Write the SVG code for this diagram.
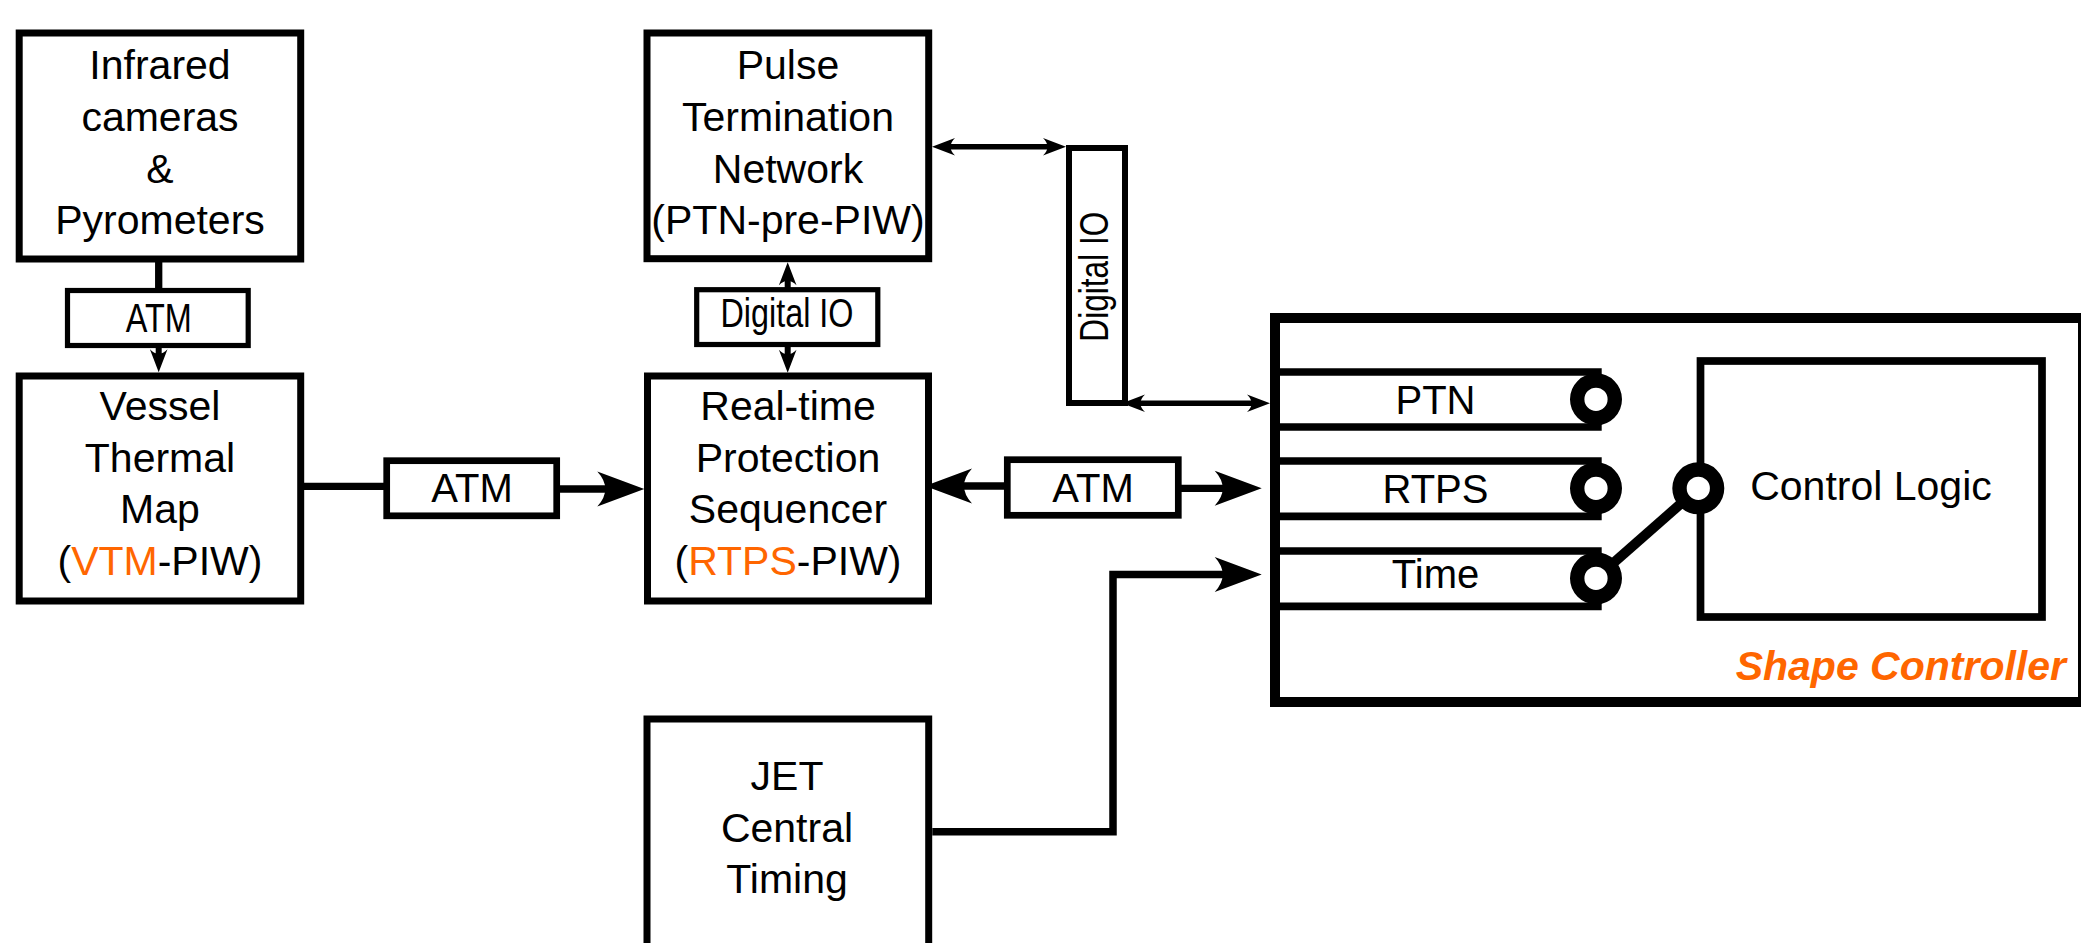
<svg xmlns="http://www.w3.org/2000/svg" width="2081" height="943" viewBox="0 0 2081 943">
  <style>
    .box { fill: #fff; stroke: #000; stroke-width: 7; }
    .lbl { fill: #fff; stroke: #000; stroke-width: 6.7; }
    .sml { fill: #fff; stroke: #000; stroke-width: 5.2; }
    .ln { fill: none; stroke: #000; }
    .t { font-family: "Liberation Sans", Arial, sans-serif; font-size: 41px; fill: #000; text-anchor: middle; }
    .t40 { font-family: "Liberation Sans", Arial, sans-serif; font-size: 40px; fill: #000; text-anchor: middle; }
    .or { fill: #ff6600; }
    .port { fill: #fff; stroke: #000; stroke-width: 14.4; }
    .row { stroke: #000; stroke-width: 7.7; }
  </style>
  <defs>
    <marker id="big" markerUnits="userSpaceOnUse" viewBox="-12 -20 52 40" markerWidth="52" markerHeight="40" refX="0" refY="0" orient="auto-start-reverse">
      <path d="M37,0 L-10,-17.5 Q6,0 -10,17.5 Z" fill="#000"/>
    </marker>
    <marker id="small" markerUnits="userSpaceOnUse" viewBox="-9 -11 28 22" markerWidth="28" markerHeight="22" refX="0" refY="0" orient="auto-start-reverse">
      <path d="M16,0 L-7,-8.8 Q2,0 -7,8.8 Z" fill="#000"/>
    </marker>
  </defs>
  <rect width="2081" height="943" fill="#fff"/>

  <!-- Shape Controller container -->
  <g id="shape-controller">
    <rect x="1275" y="318" width="808" height="384" fill="#fff" stroke="#000" stroke-width="10"/>
    <line class="row" x1="1275" y1="372" x2="1601.7" y2="372"/>
    <line class="row" x1="1275" y1="427" x2="1601.7" y2="427"/>
    <line class="row" x1="1275" y1="461" x2="1601.7" y2="461"/>
    <line class="row" x1="1275" y1="516.3" x2="1601.7" y2="516.3"/>
    <line class="row" x1="1275" y1="551" x2="1601.7" y2="551"/>
    <line class="row" x1="1275" y1="606.3" x2="1601.7" y2="606.3"/>
    <text class="t40" x="1435.5" y="414">PTN</text>
    <text class="t40" x="1435.5" y="503.3">RTPS</text>
    <text class="t40" x="1435.5" y="588.3">Time</text>
    <g id="control-logic">
      <rect x="1700.5" y="361" width="341.5" height="256" fill="#fff" stroke="#000" stroke-width="7.7"/>
      <text class="t" x="1871" y="500">Control Logic</text>
    </g>
    <line x1="1596" y1="578.3" x2="1698.3" y2="488.3" stroke="#000" stroke-width="10"/>
    <circle class="port" cx="1596" cy="399.3" r="18.8"/>
    <circle class="port" cx="1596" cy="488.3" r="18.8"/>
    <circle class="port" cx="1596" cy="578.3" r="18.8"/>
    <circle class="port" cx="1698.3" cy="488.3" r="18.8"/>
    <text x="2066" y="680" font-family="'Liberation Sans', Arial, sans-serif" font-size="41" font-weight="bold" font-style="italic" fill="#ff6600" text-anchor="end">Shape Controller</text>
  </g>

  <!-- Connectors -->
  <g id="connectors">
    <line class="ln" x1="158.7" y1="262" x2="158.7" y2="291" stroke-width="7.3"/>
    <line class="ln" x1="158.7" y1="345" x2="158.7" y2="356.3" stroke-width="6" marker-end="url(#small)"/>
    <line class="ln" x1="787.7" y1="290" x2="787.7" y2="278.3" stroke-width="6" marker-end="url(#small)"/>
    <line class="ln" x1="787.7" y1="344" x2="787.7" y2="356.7" stroke-width="6" marker-end="url(#small)"/>
    <line class="ln" x1="948" y1="146.7" x2="1050" y2="146.7" stroke-width="5.5" marker-start="url(#small)" marker-end="url(#small)"/>
    <line class="ln" x1="1138" y1="403.3" x2="1254" y2="403.3" stroke-width="5.5" marker-start="url(#small)" marker-end="url(#small)"/>
    <line class="ln" x1="300" y1="486.3" x2="387" y2="486.3" stroke-width="7.3"/>
    <line class="ln" x1="556" y1="489" x2="607.3" y2="489" stroke-width="7.3" marker-end="url(#big)"/>
    <line class="ln" x1="1008" y1="486" x2="962" y2="486" stroke-width="7.3" marker-end="url(#big)"/>
    <line class="ln" x1="1178" y1="488.3" x2="1224.7" y2="488.3" stroke-width="7.3" marker-end="url(#big)"/>
    <path class="ln" d="M932.3,831.7 H1113 V574.5 H1224.7" stroke-width="7.5" marker-end="url(#big)"/>
  </g>

  <!-- Nodes -->
  <g id="infrared">
    <rect class="box" x="19.2" y="33" width="281.5" height="226"/>
    <text class="t" x="160" y="79.3">Infrared</text>
    <text class="t" x="160" y="130.7">cameras</text>
    <text class="t" x="160" y="182.7">&amp;</text>
    <text class="t" x="160" y="233.7">Pyrometers</text>
  </g>

  <g id="label-atm-ir">
    <rect class="sml" x="67.5" y="290.5" width="180.7" height="55"/>
    <text class="t40" x="158.8" y="331.7" textLength="66" lengthAdjust="spacingAndGlyphs">ATM</text>
  </g>

  <g id="vtm">
    <rect class="box" x="19.2" y="376" width="281.5" height="225"/>
    <text class="t" x="160" y="420">Vessel</text>
    <text class="t" x="160" y="471.7">Thermal</text>
    <text class="t" x="160" y="523.4">Map</text>
    <text class="t" x="160" y="575">(<tspan class="or">VTM</tspan>-PIW)</text>
  </g>

  <g id="label-atm-vtm">
    <rect class="lbl" x="386.7" y="460.7" width="170" height="55.1"/>
    <text class="t40" x="472" y="501.7">ATM</text>
  </g>

  <g id="ptn">
    <rect class="box" x="647" y="33" width="281.7" height="225.7"/>
    <text class="t" x="788" y="79.3">Pulse</text>
    <text class="t" x="788" y="130.7">Termination</text>
    <text class="t" x="788" y="183">Network</text>
    <text class="t" x="788" y="233.5">(PTN-pre-PIW)</text>
  </g>

  <g id="label-dio-ptn">
    <rect class="sml" x="696.7" y="289.7" width="181.1" height="54.8"/>
    <text class="t40" x="787" y="326.7" textLength="133" lengthAdjust="spacingAndGlyphs">Digital IO</text>
  </g>

  <g id="rtps">
    <rect class="box" x="647.5" y="376" width="281" height="225"/>
    <text class="t" x="788" y="420">Real-time</text>
    <text class="t" x="788" y="471.7">Protection</text>
    <text class="t" x="788" y="523.4">Sequencer</text>
    <text class="t" x="788" y="575">(<tspan class="or">RTPS</tspan>-PIW)</text>
  </g>

  <g id="label-dio-sc">
    <rect x="1069" y="148" width="56" height="255" fill="#fff" stroke="#000" stroke-width="6"/>
    <text class="t40" transform="translate(1108,276.7) rotate(-90)" x="0" y="0" textLength="130" lengthAdjust="spacingAndGlyphs">Digital IO</text>
  </g>

  <g id="label-atm-rtps">
    <rect class="lbl" x="1007.3" y="459.7" width="171" height="55.6"/>
    <text class="t40" x="1093" y="501.7">ATM</text>
  </g>

  <g id="jet">
    <rect class="box" x="647" y="719" width="281.7" height="260"/>
    <text class="t" x="787" y="790">JET</text>
    <text class="t" x="787" y="841.7">Central</text>
    <text class="t" x="787" y="893.3">Timing</text>
  </g>
</svg>
